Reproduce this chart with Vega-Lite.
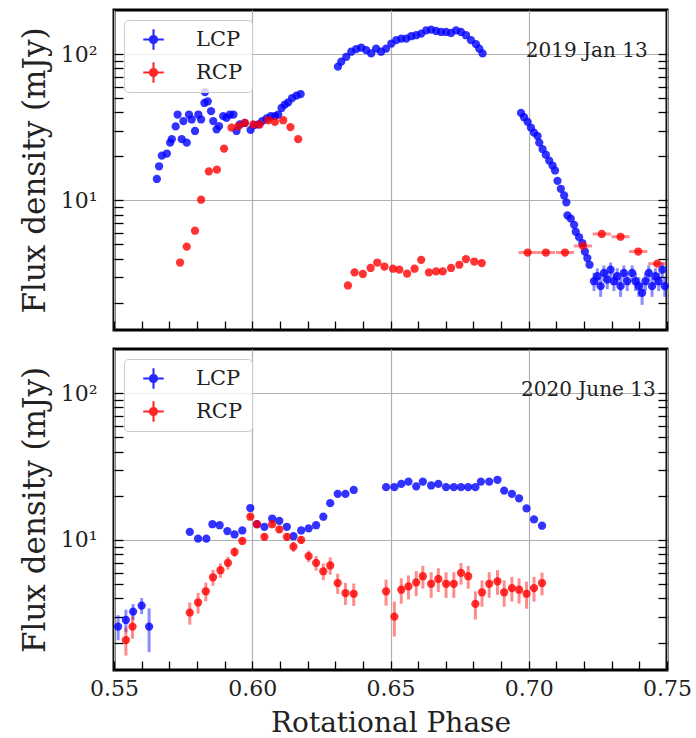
{
  "$schema": "https://vega.github.io/schema/vega-lite/v6.json",
  "background": "white",
  "padding": {"left": 17, "top": 8, "right": 2, "bottom": 0},
  "spacing": 14,
  "resolve": {"scale": {"color": "independent"}, "legend": {"color": "independent"}},
  "config": {
    "view": {"stroke": "black", "strokeWidth": 3},
    "font": "DejaVu Serif",
    "axis": {"domain": false, "tickColor": "black", "tickWidth": 1.3, "tickSize": -9, "labelFont": "DejaVu Serif", "labelFontSize": 22, "labelColor": "#222", "titleFont": "DejaVu Serif", "titleFontWeight": "normal", "titleColor": "#222", "gridColor": "#b0b0b0", "gridWidth": 1.2},
    "legend": {"orient": "top-left", "offset": 10, "labelFont": "DejaVu Serif", "labelFontSize": 21, "labelColor": "#222", "symbolType": "M-1,-0.1H1V0.1H-1ZM-0.1,-1H0.1V1H-0.1ZM0.45,0A0.45,0.45,0,1,1,-0.45,0A0.45,0.45,0,1,1,0.45,0Z", "symbolSize": 420, "symbolOpacity": 0.85, "symbolStrokeWidth": 0, "padding": 9, "strokeColor": "#cccccc", "fillColor": "rgba(255,255,255,0.8)", "cornerRadius": 4, "rowPadding": 11, "labelOffset": 32, "symbolOffset": 10}
  },
  "vconcat": [
    {
      "width": 553, "height": 320,
      "data": {"values": [
        {"pol":"LCP","phase":0.5655,"flux":14.0},{"pol":"LCP","phase":0.5663,"flux":17.1},{"pol":"LCP","phase":0.5673,"flux":20.2},{"pol":"LCP","phase":0.5691,"flux":20.9},{"pol":"LCP","phase":0.5703,"flux":24.8},{"pol":"LCP","phase":0.5709,"flux":26.2},{"pol":"LCP","phase":0.5723,"flux":32.0},{"pol":"LCP","phase":0.5730,"flux":38.6},{"pol":"LCP","phase":0.5745,"flux":26.2},{"pol":"LCP","phase":0.5751,"flux":34.8},{"pol":"LCP","phase":0.5763,"flux":24.8},{"pol":"LCP","phase":0.5771,"flux":38.6},{"pol":"LCP","phase":0.5781,"flux":35.7},{"pol":"LCP","phase":0.5793,"flux":29.8},{"pol":"LCP","phase":0.5805,"flux":38.6},{"pol":"LCP","phase":0.5815,"flux":35.7},{"pol":"LCP","phase":0.5827,"flux":46.3},{"pol":"LCP","phase":0.5829,"flux":55.0},{"pol":"LCP","phase":0.5839,"flux":47.5},{"pol":"LCP","phase":0.5851,"flux":40.7},{"pol":"LCP","phase":0.5859,"flux":34.8},{"pol":"LCP","phase":0.5871,"flux":30.6},{"pol":"LCP","phase":0.5880,"flux":32.2},{"pol":"LCP","phase":0.5895,"flux":37.6},{"pol":"LCP","phase":0.5907,"flux":36.6},{"pol":"LCP","phase":0.5919,"flux":38.6},{"pol":"LCP","phase":0.5932,"flux":38.6},{"pol":"LCP","phase":0.5943,"flux":29.8},{"pol":"LCP","phase":0.5955,"flux":33.0},{"pol":"LCP","phase":0.5973,"flux":33.8},{"pol":"LCP","phase":0.5994,"flux":30.3},{"pol":"LCP","phase":0.6007,"flux":32.7},{"pol":"LCP","phase":0.6022,"flux":33.0},{"pol":"LCP","phase":0.6036,"flux":34.8},{"pol":"LCP","phase":0.6052,"flux":36.3},{"pol":"LCP","phase":0.6067,"flux":37.6},{"pol":"LCP","phase":0.6082,"flux":37.6},{"pol":"LCP","phase":0.6094,"flux":38.6},{"pol":"LCP","phase":0.6106,"flux":42.8},{"pol":"LCP","phase":0.6118,"flux":45.2},{"pol":"LCP","phase":0.6130,"flux":46.8},{"pol":"LCP","phase":0.6144,"flux":50.0},{"pol":"LCP","phase":0.6160,"flux":52.0},{"pol":"LCP","phase":0.6175,"flux":53.3},
        {"pol":"LCP","phase":0.6310,"flux":82},{"pol":"LCP","phase":0.6322,"flux":88.7},{"pol":"LCP","phase":0.6340,"flux":95.8},{"pol":"LCP","phase":0.6358,"flux":103.7},{"pol":"LCP","phase":0.6376,"flux":108},{"pol":"LCP","phase":0.6394,"flux":110.8},{"pol":"LCP","phase":0.6412,"flux":106.4},{"pol":"LCP","phase":0.6430,"flux":101},{"pol":"LCP","phase":0.6448,"flux":109},{"pol":"LCP","phase":0.6466,"flux":103.7},{"pol":"LCP","phase":0.6484,"flux":109},{"pol":"LCP","phase":0.6503,"flux":118},{"pol":"LCP","phase":0.6521,"flux":124.4},{"pol":"LCP","phase":0.6539,"flux":127.6},{"pol":"LCP","phase":0.6557,"flux":127.6},{"pol":"LCP","phase":0.6575,"flux":132.4},{"pol":"LCP","phase":0.6593,"flux":134.5},{"pol":"LCP","phase":0.6611,"flux":137.8},{"pol":"LCP","phase":0.6629,"flux":145},{"pol":"LCP","phase":0.6647,"flux":146.7},{"pol":"LCP","phase":0.6665,"flux":143.8},{"pol":"LCP","phase":0.6683,"flux":141.5},{"pol":"LCP","phase":0.6701,"flux":141.5},{"pol":"LCP","phase":0.6719,"flux":139.3},{"pol":"LCP","phase":0.6737,"flux":145},{"pol":"LCP","phase":0.6755,"flux":141.5},{"pol":"LCP","phase":0.6773,"flux":134.5},{"pol":"LCP","phase":0.6791,"flux":124.4},{"pol":"LCP","phase":0.6809,"flux":116.9},{"pol":"LCP","phase":0.6821,"flux":109},{"pol":"LCP","phase":0.6833,"flux":101},
        {"pol":"LCP","phase":0.6972,"flux":39.6},{"pol":"LCP","phase":0.6983,"flux":37.0},{"pol":"LCP","phase":0.6996,"flux":34.4},{"pol":"LCP","phase":0.7008,"flux":31.4},{"pol":"LCP","phase":0.7019,"flux":29.0},{"pol":"LCP","phase":0.7032,"flux":27.5},{"pol":"LCP","phase":0.7038,"flux":24.8},{"pol":"LCP","phase":0.7050,"flux":22.4},{"pol":"LCP","phase":0.7062,"flux":20.5},{"pol":"LCP","phase":0.7074,"flux":18.7},{"pol":"LCP","phase":0.7086,"flux":17.3},{"pol":"LCP","phase":0.7095,"flux":16.0},{"pol":"LCP","phase":0.7104,"flux":13.6},{"pol":"LCP","phase":0.7116,"flux":12.0},{"pol":"LCP","phase":0.7128,"flux":10.8},{"pol":"LCP","phase":0.7136,"flux":9.7},{"pol":"LCP","phase":0.7140,"flux":7.9},{"pol":"LCP","phase":0.7152,"flux":7.5},{"pol":"LCP","phase":0.7164,"flux":6.8},{"pol":"LCP","phase":0.7170,"flux":6.1},{"pol":"LCP","phase":0.7182,"flux":5.6},{"pol":"LCP","phase":0.7194,"flux":5.1},{"pol":"LCP","phase":0.7203,"flux":4.47},{"pol":"LCP","phase":0.7212,"flux":4.03},{"pol":"LCP","phase":0.7220,"flux":3.63},
        {"pol":"LCP","phase":0.7236,"flux":2.8,"ferr":0.4},{"pol":"LCP","phase":0.7248,"flux":3.03,"ferr":0.4},{"pol":"LCP","phase":0.7260,"flux":2.59,"ferr":0.4},{"pol":"LCP","phase":0.7272,"flux":3.19,"ferr":0.4},{"pol":"LCP","phase":0.7284,"flux":2.87,"ferr":0.4},{"pol":"LCP","phase":0.7296,"flux":3.36,"ferr":0.4},{"pol":"LCP","phase":0.7308,"flux":2.8,"ferr":0.4},{"pol":"LCP","phase":0.7320,"flux":3.03,"ferr":0.4},{"pol":"LCP","phase":0.7332,"flux":2.59,"ferr":0.4},{"pol":"LCP","phase":0.7344,"flux":3.19,"ferr":0.4},{"pol":"LCP","phase":0.7356,"flux":2.8,"ferr":0.4},{"pol":"LCP","phase":0.7374,"flux":3.19,"ferr":0.4},{"pol":"LCP","phase":0.7386,"flux":2.8,"ferr":0.4},{"pol":"LCP","phase":0.7398,"flux":2.59,"ferr":0.4},{"pol":"LCP","phase":0.7410,"flux":2.33,"ferr":0.4},{"pol":"LCP","phase":0.7422,"flux":2.8,"ferr":0.4},{"pol":"LCP","phase":0.7434,"flux":3.19,"ferr":0.4},{"pol":"LCP","phase":0.7446,"flux":2.59,"ferr":0.4},{"pol":"LCP","phase":0.7458,"flux":3.03,"ferr":0.4},{"pol":"LCP","phase":0.7470,"flux":2.8,"ferr":0.4},{"pol":"LCP","phase":0.7483,"flux":3.36,"ferr":0.4},{"pol":"LCP","phase":0.7492,"flux":2.59,"ferr":0.4},
        {"pol":"RCP","phase":0.5739,"flux":3.76},{"pol":"RCP","phase":0.5763,"flux":4.83},{"pol":"RCP","phase":0.5793,"flux":6.2},{"pol":"RCP","phase":0.5815,"flux":10.1},{"pol":"RCP","phase":0.5843,"flux":15.8},{"pol":"RCP","phase":0.5872,"flux":16.2},{"pol":"RCP","phase":0.5898,"flux":22.6},{"pol":"RCP","phase":0.5925,"flux":31.4},{"pol":"RCP","phase":0.5950,"flux":32.2},{"pol":"RCP","phase":0.5973,"flux":33.8},{"pol":"RCP","phase":0.6004,"flux":33.0},{"pol":"RCP","phase":0.6027,"flux":33.0},{"pol":"RCP","phase":0.6058,"flux":35.3},{"pol":"RCP","phase":0.6082,"flux":34.4},{"pol":"RCP","phase":0.6112,"flux":35.3},{"pol":"RCP","phase":0.6138,"flux":31.7},{"pol":"RCP","phase":0.6166,"flux":26.2},
        {"pol":"RCP","phase":0.6346,"flux":2.62},{"pol":"RCP","phase":0.6370,"flux":3.22},{"pol":"RCP","phase":0.6400,"flux":3.14},{"pol":"RCP","phase":0.6428,"flux":3.45},{"pol":"RCP","phase":0.6452,"flux":3.76},{"pol":"RCP","phase":0.6478,"flux":3.53},{"pol":"RCP","phase":0.6509,"flux":3.41},{"pol":"RCP","phase":0.6532,"flux":3.36},{"pol":"RCP","phase":0.6560,"flux":3.16},{"pol":"RCP","phase":0.6587,"flux":3.41},{"pol":"RCP","phase":0.6611,"flux":3.92},{"pol":"RCP","phase":0.6639,"flux":3.22},{"pol":"RCP","phase":0.6665,"flux":3.27},{"pol":"RCP","phase":0.6689,"flux":3.27},{"pol":"RCP","phase":0.6719,"flux":3.45},{"pol":"RCP","phase":0.6749,"flux":3.63},{"pol":"RCP","phase":0.6773,"flux":3.97},{"pol":"RCP","phase":0.6803,"flux":3.82},{"pol":"RCP","phase":0.6830,"flux":3.73},
        {"pol":"RCP","phase":0.6996,"flux":4.40,"perr":0.0033},{"pol":"RCP","phase":0.7062,"flux":4.40,"perr":0.0033},{"pol":"RCP","phase":0.7131,"flux":4.40,"perr":0.0033},{"pol":"RCP","phase":0.7196,"flux":4.88,"perr":0.0033},{"pol":"RCP","phase":0.7264,"flux":5.89,"perr":0.0033},{"pol":"RCP","phase":0.7332,"flux":5.64,"perr":0.0033},{"pol":"RCP","phase":0.7396,"flux":4.47,"perr":0.0033},{"pol":"RCP","phase":0.7465,"flux":3.69,"perr":0.0033}
      ]},
      "layer": [
        {
          "transform": [{"filter": "datum.ferr > 0"}],
          "mark": {"type": "errorbar", "thickness": 3, "opacity": 0.45},
          "encoding": {
            "x": {"field": "phase", "type": "quantitative", "scale": {"domain": [0.55, 0.75], "nice": false, "zero": false},
                  "axis": {"values": [0.55,0.56,0.57,0.58,0.59,0.6,0.61,0.62,0.63,0.64,0.65,0.66,0.67,0.68,0.69,0.7,0.71,0.72,0.73,0.74,0.75], "labels": false, "title": null, "gridOpacity": {"condition": {"test": "abs(datum.value*20 - round(datum.value*20)) < 0.01", "value": 1}, "value": 0}}},
            "y": {"field": "flux", "type": "quantitative", "scale": {"type": "log", "domain": [1.3, 200], "nice": false},
                  "axis": {"values": [2,3,4,5,6,7,8,9,10,20,30,40,50,60,70,80,90,100], "labelExpr": "datum.value == 10 ? '10¹' : datum.value == 100 ? '10²' : ''", "labelOverlap": false, "labelFlush": false, "labelPadding": 26, "title": "Flux density (mJy)", "titleFontSize": 31, "titlePadding": 9, "gridOpacity": {"condition": {"test": "datum.value == 10 || datum.value == 100", "value": 1}, "value": 0}}},
            "yError": {"field": "ferr"},
            "color": {"field": "pol", "type": "nominal", "scale": {"domain": ["LCP", "RCP"], "range": ["#0000ff", "#ff0000"]}, "legend": {"title": null}}
          }
        },
        {
          "transform": [{"filter": "datum.perr > 0"}],
          "mark": {"type": "errorbar", "thickness": 3, "opacity": 0.45},
          "encoding": {
            "x": {"field": "phase", "type": "quantitative", "scale": {"domain": [0.55, 0.75], "nice": false, "zero": false},
                  "axis": {"values": [0.55,0.56,0.57,0.58,0.59,0.6,0.61,0.62,0.63,0.64,0.65,0.66,0.67,0.68,0.69,0.7,0.71,0.72,0.73,0.74,0.75], "labels": false, "title": null, "gridOpacity": {"condition": {"test": "abs(datum.value*20 - round(datum.value*20)) < 0.01", "value": 1}, "value": 0}}},
            "xError": {"field": "perr"},
            "y": {"field": "flux", "type": "quantitative", "scale": {"type": "log", "domain": [1.3, 200], "nice": false}, "axis": null},
            "color": {"field": "pol", "type": "nominal", "scale": {"domain": ["LCP", "RCP"], "range": ["#0000ff", "#ff0000"]}, "legend": {"title": null}}
          }
        },
        {
          "mark": {"type": "circle", "size": 68, "opacity": 0.8},
          "encoding": {
            "x": {"field": "phase", "type": "quantitative", "scale": {"domain": [0.55, 0.75], "nice": false, "zero": false},
                  "axis": {"values": [0.55,0.56,0.57,0.58,0.59,0.6,0.61,0.62,0.63,0.64,0.65,0.66,0.67,0.68,0.69,0.7,0.71,0.72,0.73,0.74,0.75], "labels": false, "title": null, "gridOpacity": {"condition": {"test": "abs(datum.value*20 - round(datum.value*20)) < 0.01", "value": 1}, "value": 0}}},
            "y": {"field": "flux", "type": "quantitative", "scale": {"type": "log", "domain": [1.3, 200], "nice": false}, "axis": null},
            "color": {"field": "pol", "type": "nominal", "scale": {"domain": ["LCP", "RCP"], "range": ["#0000ff", "#ff0000"]}, "legend": {"title": null}}
          }
        },
        {
          "data": {"values": [{}]},
          "mark": {"type": "text", "align": "right", "baseline": "middle", "font": "DejaVu Serif", "fontSize": 20, "color": "#222"},
          "encoding": {
            "x": {"datum": 0.743, "type": "quantitative", "scale": {"domain": [0.55, 0.75], "nice": false, "zero": false},
                  "axis": {"values": [0.55,0.56,0.57,0.58,0.59,0.6,0.61,0.62,0.63,0.64,0.65,0.66,0.67,0.68,0.69,0.7,0.71,0.72,0.73,0.74,0.75], "labels": false, "title": null, "gridOpacity": {"condition": {"test": "abs(datum.value*20 - round(datum.value*20)) < 0.01", "value": 1}, "value": 0}}},
            "y": {"datum": 105, "type": "quantitative", "scale": {"type": "log", "domain": [1.3, 200], "nice": false},
                  "axis": {"orient": "right", "values": [2,3,4,5,6,7,8,9,10,20,30,40,50,60,70,80,90,100], "labels": false, "grid": false, "title": null}},
            "text": {"value": "2019 Jan 13"}
          }
        }
      ],
      "resolve": {"axis": {"y": "independent"}}
    },
    {
      "width": 553, "height": 321,
      "data": {"values": [
        {"pol":"LCP","phase":0.5515,"flux":2.57,"ferr":0.5},{"pol":"LCP","phase":0.5543,"flux":2.85,"ferr":0.5},{"pol":"LCP","phase":0.5569,"flux":3.25,"ferr":0.4},{"pol":"LCP","phase":0.5600,"flux":3.57,"ferr":0.45},{"pol":"LCP","phase":0.5627,"flux":2.57,"ferr":0.85},
        {"pol":"LCP","phase":0.5774,"flux":11.35},{"pol":"LCP","phase":0.5804,"flux":10.2},{"pol":"LCP","phase":0.5834,"flux":10.2},{"pol":"LCP","phase":0.5856,"flux":12.8},{"pol":"LCP","phase":0.5882,"flux":12.6},{"pol":"LCP","phase":0.5910,"flux":11.5},{"pol":"LCP","phase":0.5936,"flux":10.9},{"pol":"LCP","phase":0.5964,"flux":11.6},{"pol":"LCP","phase":0.5993,"flux":16.5},{"pol":"LCP","phase":0.6017,"flux":12.8},{"pol":"LCP","phase":0.6044,"flux":12.3},{"pol":"LCP","phase":0.6072,"flux":14.0},{"pol":"LCP","phase":0.6098,"flux":13.5},{"pol":"LCP","phase":0.6125,"flux":12.3},{"pol":"LCP","phase":0.6149,"flux":10.6},{"pol":"LCP","phase":0.6177,"flux":11.6},{"pol":"LCP","phase":0.6204,"flux":12.0},{"pol":"LCP","phase":0.6231,"flux":12.6},{"pol":"LCP","phase":0.6257,"flux":14.4},{"pol":"LCP","phase":0.6282,"flux":17.8},{"pol":"LCP","phase":0.6309,"flux":20.6},{"pol":"LCP","phase":0.6337,"flux":20.6},{"pol":"LCP","phase":0.6367,"flux":21.9},
        {"pol":"LCP","phase":0.6484,"flux":22.9},{"pol":"LCP","phase":0.6514,"flux":22.9},{"pol":"LCP","phase":0.6539,"flux":24.1},{"pol":"LCP","phase":0.6565,"flux":25.0},{"pol":"LCP","phase":0.6593,"flux":23.2},{"pol":"LCP","phase":0.6617,"flux":25.0},{"pol":"LCP","phase":0.6647,"flux":23.5},{"pol":"LCP","phase":0.6673,"flux":24.1},{"pol":"LCP","phase":0.6701,"flux":22.9},{"pol":"LCP","phase":0.6729,"flux":22.9},{"pol":"LCP","phase":0.6755,"flux":22.9},{"pol":"LCP","phase":0.6781,"flux":22.9},{"pol":"LCP","phase":0.6807,"flux":22.9},{"pol":"LCP","phase":0.6827,"flux":25.0},{"pol":"LCP","phase":0.6857,"flux":25.0},{"pol":"LCP","phase":0.6887,"flux":25.7},{"pol":"LCP","phase":0.6911,"flux":21.7},{"pol":"LCP","phase":0.6939,"flux":20.6},{"pol":"LCP","phase":0.6965,"flux":19.2},{"pol":"LCP","phase":0.6992,"flux":16.4},{"pol":"LCP","phase":0.7019,"flux":13.8},{"pol":"LCP","phase":0.7048,"flux":12.5},
        {"pol":"RCP","phase":0.5543,"flux":2.08,"ferr":0.45},{"pol":"RCP","phase":0.5567,"flux":2.57,"ferr":0.45},
        {"pol":"RCP","phase":0.5774,"flux":3.2,"ferr":0.55},{"pol":"RCP","phase":0.5804,"flux":3.75,"ferr":0.6},{"pol":"RCP","phase":0.5832,"flux":4.47,"ferr":0.65},{"pol":"RCP","phase":0.5858,"flux":5.57,"ferr":0.7},{"pol":"RCP","phase":0.5885,"flux":6.22,"ferr":0.7},{"pol":"RCP","phase":0.5912,"flux":6.98,"ferr":0.7},{"pol":"RCP","phase":0.5936,"flux":8.28,"ferr":0.6},{"pol":"RCP","phase":0.5964,"flux":9.84,"ferr":0.4},{"pol":"RCP","phase":0.5993,"flux":14.4,"ferr":0.6},{"pol":"RCP","phase":0.6017,"flux":12.8,"ferr":0.5},{"pol":"RCP","phase":0.6044,"flux":10.5,"ferr":0.5},{"pol":"RCP","phase":0.6072,"flux":12.8,"ferr":0.5},{"pol":"RCP","phase":0.6098,"flux":11.8,"ferr":0.6},{"pol":"RCP","phase":0.6125,"flux":10.5,"ferr":0.6},{"pol":"RCP","phase":0.6149,"flux":9.0,"ferr":0.7},{"pol":"RCP","phase":0.6177,"flux":10.0,"ferr":0.6},{"pol":"RCP","phase":0.6204,"flux":7.76,"ferr":0.7},{"pol":"RCP","phase":0.6231,"flux":6.98,"ferr":0.8},{"pol":"RCP","phase":0.6257,"flux":6.12,"ferr":0.8},{"pol":"RCP","phase":0.6282,"flux":6.7,"ferr":0.9},{"pol":"RCP","phase":0.6309,"flux":5.09,"ferr":0.8},{"pol":"RCP","phase":0.6337,"flux":4.35,"ferr":0.75},{"pol":"RCP","phase":0.6367,"flux":4.3,"ferr":0.75},
        {"pol":"RCP","phase":0.6484,"flux":4.47,"ferr":0.9},{"pol":"RCP","phase":0.6514,"flux":3.0,"ferr":0.8},{"pol":"RCP","phase":0.6539,"flux":4.58,"ferr":0.9},{"pol":"RCP","phase":0.6565,"flux":4.83,"ferr":0.9},{"pol":"RCP","phase":0.6593,"flux":5.14,"ferr":1.0},{"pol":"RCP","phase":0.6617,"flux":5.66,"ferr":1.0},{"pol":"RCP","phase":0.6647,"flux":5.03,"ferr":1.0},{"pol":"RCP","phase":0.6673,"flux":5.42,"ferr":1.0},{"pol":"RCP","phase":0.6701,"flux":5.03,"ferr":1.0},{"pol":"RCP","phase":0.6729,"flux":5.03,"ferr":1.0},{"pol":"RCP","phase":0.6755,"flux":5.96,"ferr":1.0},{"pol":"RCP","phase":0.6781,"flux":5.66,"ferr":1.0},{"pol":"RCP","phase":0.6807,"flux":3.67,"ferr":0.8},{"pol":"RCP","phase":0.6831,"flux":4.40,"ferr":0.9},{"pol":"RCP","phase":0.6857,"flux":5.03,"ferr":1.0},{"pol":"RCP","phase":0.6887,"flux":5.23,"ferr":1.0},{"pol":"RCP","phase":0.6911,"flux":4.40,"ferr":0.9},{"pol":"RCP","phase":0.6939,"flux":4.70,"ferr":0.9},{"pol":"RCP","phase":0.6965,"flux":4.58,"ferr":0.9},{"pol":"RCP","phase":0.6992,"flux":4.30,"ferr":0.9},{"pol":"RCP","phase":0.7019,"flux":4.70,"ferr":0.9},{"pol":"RCP","phase":0.7048,"flux":5.09,"ferr":0.9}
      ]},
      "layer": [
        {
          "transform": [{"filter": "datum.ferr > 0"}],
          "mark": {"type": "errorbar", "thickness": 3, "opacity": 0.45},
          "encoding": {
            "x": {"field": "phase", "type": "quantitative", "scale": {"domain": [0.55, 0.75], "nice": false, "zero": false},
                  "axis": {"values": [0.55,0.56,0.57,0.58,0.59,0.6,0.61,0.62,0.63,0.64,0.65,0.66,0.67,0.68,0.69,0.7,0.71,0.72,0.73,0.74,0.75], "labelExpr": "abs(datum.value*20 - round(datum.value*20)) < 0.01 ? format(datum.value, '.2f') : ''", "labelOverlap": false, "labelFlush": false, "labelPadding": 17, "title": "Rotational Phase", "titleFontSize": 28, "titlePadding": 10, "gridOpacity": {"condition": {"test": "abs(datum.value*20 - round(datum.value*20)) < 0.01", "value": 1}, "value": 0}}},
            "y": {"field": "flux", "type": "quantitative", "scale": {"type": "log", "domain": [1.3, 200], "nice": false},
                  "axis": {"values": [2,3,4,5,6,7,8,9,10,20,30,40,50,60,70,80,90,100], "labelExpr": "datum.value == 10 ? '10¹' : datum.value == 100 ? '10²' : ''", "labelOverlap": false, "labelFlush": false, "labelPadding": 26, "title": "Flux density (mJy)", "titleFontSize": 31, "titlePadding": 9, "gridOpacity": {"condition": {"test": "datum.value == 10 || datum.value == 100", "value": 1}, "value": 0}}},
            "yError": {"field": "ferr"},
            "color": {"field": "pol", "type": "nominal", "scale": {"domain": ["LCP", "RCP"], "range": ["#0000ff", "#ff0000"]}, "legend": {"title": null}}
          }
        },
        {
          "mark": {"type": "circle", "size": 68, "opacity": 0.8},
          "encoding": {
            "x": {"field": "phase", "type": "quantitative", "scale": {"domain": [0.55, 0.75], "nice": false, "zero": false},
                  "axis": {"values": [0.55,0.56,0.57,0.58,0.59,0.6,0.61,0.62,0.63,0.64,0.65,0.66,0.67,0.68,0.69,0.7,0.71,0.72,0.73,0.74,0.75], "labelExpr": "abs(datum.value*20 - round(datum.value*20)) < 0.01 ? format(datum.value, '.2f') : ''", "labelOverlap": false, "labelFlush": false, "labelPadding": 17, "title": "Rotational Phase", "titleFontSize": 28, "titlePadding": 10, "gridOpacity": {"condition": {"test": "abs(datum.value*20 - round(datum.value*20)) < 0.01", "value": 1}, "value": 0}}},
            "y": {"field": "flux", "type": "quantitative", "scale": {"type": "log", "domain": [1.3, 200], "nice": false}, "axis": null},
            "color": {"field": "pol", "type": "nominal", "scale": {"domain": ["LCP", "RCP"], "range": ["#0000ff", "#ff0000"]}, "legend": {"title": null}}
          }
        },
        {
          "data": {"values": [{}]},
          "mark": {"type": "text", "align": "right", "baseline": "middle", "font": "DejaVu Serif", "fontSize": 20, "color": "#222"},
          "encoding": {
            "x": {"datum": 0.7459, "type": "quantitative", "scale": {"domain": [0.55, 0.75], "nice": false, "zero": false},
                  "axis": {"values": [0.55,0.56,0.57,0.58,0.59,0.6,0.61,0.62,0.63,0.64,0.65,0.66,0.67,0.68,0.69,0.7,0.71,0.72,0.73,0.74,0.75], "labelExpr": "abs(datum.value*20 - round(datum.value*20)) < 0.01 ? format(datum.value, '.2f') : ''", "labelOverlap": false, "labelFlush": false, "labelPadding": 17, "title": "Rotational Phase", "titleFontSize": 28, "titlePadding": 10, "gridOpacity": {"condition": {"test": "abs(datum.value*20 - round(datum.value*20)) < 0.01", "value": 1}, "value": 0}}},
            "y": {"datum": 105, "type": "quantitative", "scale": {"type": "log", "domain": [1.3, 200], "nice": false},
                  "axis": {"orient": "right", "values": [2,3,4,5,6,7,8,9,10,20,30,40,50,60,70,80,90,100], "labels": false, "grid": false, "title": null}},
            "text": {"value": "2020 June 13"}
          }
        }
      ],
      "resolve": {"axis": {"y": "independent"}}
    }
  ]
}
